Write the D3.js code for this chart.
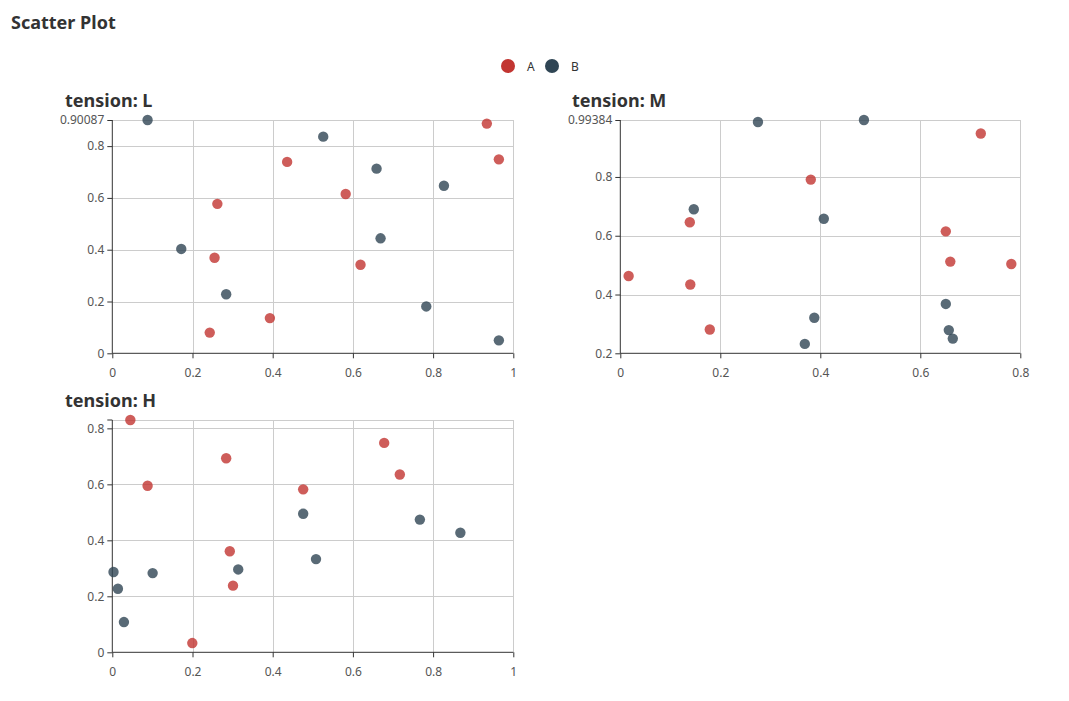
<!DOCTYPE html>
<html><head><meta charset="utf-8">
<script src="https://cdn.jsdelivr.net/npm/d3@7/dist/d3.min.js"></script>
<style>body{margin:0;background:#fff;}svg{display:block;font-family:"Noto Sans",sans-serif;}</style>
</head><body><svg id="c" width="1069" height="701"></svg>
<script>
const series = ["A", "B"];
const colors = ["#c23531", "#2f4554"];
const panels = ["L", "M", "H"];

// tension L
const L_A_x = [0.934, 0.964, 0.436, 0.582, 0.262, 0.255, 0.619, 0.393, 0.243];
const L_A_y = [0.887, 0.749, 0.739, 0.615, 0.577, 0.369, 0.342, 0.136, 0.080];
const L_B_x = [0.088, 0.526, 0.659, 0.827, 0.172, 0.669, 0.284, 0.783, 0.964];
const L_B_y = [0.90087, 0.8365, 0.713, 0.647, 0.403, 0.444, 0.228, 0.181, 0.050];
// tension M
const M_A_x = [0.721, 0.381, 0.139, 0.651, 0.660, 0.782, 0.0167, 0.140, 0.179];
const M_A_y = [0.948, 0.791, 0.646, 0.615, 0.512, 0.504, 0.463, 0.434, 0.281];
const M_B_x = [0.2753, 0.4873, 0.147, 0.407, 0.651, 0.388, 0.657, 0.665, 0.369];
const M_B_y = [0.987, 0.99384, 0.690, 0.658, 0.368, 0.321, 0.279, 0.250, 0.232];
// tension H
const H_A_x = [0.045, 0.678, 0.284, 0.088, 0.717, 0.476, 0.293, 0.301, 0.1995];
const H_A_y = [0.82981, 0.748, 0.693, 0.595, 0.635, 0.582, 0.361, 0.238, 0.033];
const H_B_x = [0.476, 0.767, 0.868, 0.508, 0.314, 0.003, 0.1006, 0.014, 0.029];
const H_B_y = [0.495, 0.474, 0.427, 0.333, 0.296, 0.287, 0.283, 0.227, 0.108];

const xMaxes = [1, 0.8, 1];
const yMins = [0, 0.2, 0];
const xTickStep = 0.2, yTickStep = 0.2;

const data = {
  L: [[L_A_x, L_A_y], [L_B_x, L_B_y]],
  M: [[M_A_x, M_A_y], [M_B_x, M_B_y]],
  H: [[H_A_x, H_A_y], [H_B_x, H_B_y]]
};

const layout = [
  {x0: 112.3, x1: 513.3, y0: 120, y1: 353.3, tx: 65, ty: 107},
  {x0: 620.3, x1: 1020.3, y0: 120, y1: 353.3, tx: 572, ty: 107},
  {x0: 112.3, x1: 513.3, y0: 420, y1: 652.3, tx: 65, ty: 407}
];

const svg = d3.select("#c");
svg.append("text").attr("x", 11).attr("y", 29).attr("font-size", 18).attr("font-weight", "bold")
  .attr("fill", "#333").text("Scatter Plot");

// legend
const leg = svg.append("g");
const legX = [508, 552];
series.forEach((s, i) => {
  leg.append("circle").attr("cx", legX[i]).attr("cy", 66).attr("r", 7).attr("fill", colors[i]);
  leg.append("text").attr("x", legX[i] + 19).attr("y", 70.5).attr("font-size", 12).attr("fill", "#333").text(s);
});

panels.forEach((p, pi) => {
  const lay = layout[pi];
  const allY = data[p].flatMap(d => d[1]);
  const yMax = d3.max(allY);
  const x = d3.scaleLinear().domain([0, xMaxes[pi]]).range([lay.x0, lay.x1]);
  const y = d3.scaleLinear().domain([yMins[pi], yMax]).range([lay.y1, lay.y0]);
  const g = svg.append("g");
  g.append("text").attr("x", lay.tx).attr("y", lay.ty).attr("font-size", 18).attr("font-weight", "bold")
    .attr("fill", "#333").text("tension: " + p);

  const xt = d3.range(0, xMaxes[pi] + 1e-9, xTickStep).map(v => +v.toFixed(4));
  let yt = d3.range(yMins[pi], yMax + 1e-9, yTickStep).map(v => +v.toFixed(4));
  const showMax = (y(yt[yt.length - 1]) - y(yMax)) > 14;
  const yGrid = yt.concat([yMax]);

  // grid
  g.selectAll(".gx").data(xt.slice(1)).enter().append("line")
    .attr("x1", d => Math.round(x(d)) + 0.5).attr("x2", d => Math.round(x(d)) + 0.5)
    .attr("y1", lay.y0).attr("y2", lay.y1).attr("stroke", "#ccc").attr("stroke-width", 1);
  g.selectAll(".gy").data(yGrid.slice(1)).enter().append("line")
    .attr("x1", lay.x0).attr("x2", lay.x1)
    .attr("y1", d => Math.round(y(d)) + 0.5).attr("y2", d => Math.round(y(d)) + 0.5)
    .attr("stroke", "#ccc").attr("stroke-width", 1);

  // axes
  const xAxis = d3.axisBottom(x).tickValues(xt).tickSize(5).tickFormat(d3.format("~g"));
  const gx = g.append("g").attr("transform", `translate(0,${lay.y1})`).call(xAxis);
  const yTickVals = showMax ? yt.concat([yMax]) : yt;
  const yAxis = d3.axisLeft(y).tickValues(yTickVals).tickSize(5)
    .tickFormat(d => d === yMax ? String(yMax) : d3.format("~g")(d));
  const gy = g.append("g").attr("transform", `translate(${lay.x0},0)`).call(yAxis);
  if (!showMax) {
    gy.append("line").attr("x1", -5).attr("x2", 0).attr("y1", y(yMax)).attr("y2", y(yMax)).attr("stroke", "#333");
  }
  [gx, gy].forEach(a => {
    a.select(".domain").attr("stroke", "#333");
    a.selectAll(".tick line").attr("stroke", "#333");
    a.selectAll(".tick text").attr("fill", "#555").attr("font-size", 12).attr("font-family", "Noto Sans, sans-serif");
  });
  gx.selectAll(".tick text").attr("dy", "1.35em");
  gy.select(".domain").attr("d", `M-0,${lay.y0}V${lay.y1}`);
  gx.select(".domain").attr("d", `M${lay.x0},0H${lay.x1}`);

  // points
  data[p].forEach((sd, si) => {
    const pts = sd[0].map((xv, k) => [xv, sd[1][k]]);
    g.append("g").selectAll("circle").data(pts).enter().append("circle")
      .attr("cx", d => x(d[0])).attr("cy", d => y(d[1])).attr("r", 5.2)
      .attr("fill", colors[si]).attr("fill-opacity", 0.8);
  });
});
</script></body></html>
